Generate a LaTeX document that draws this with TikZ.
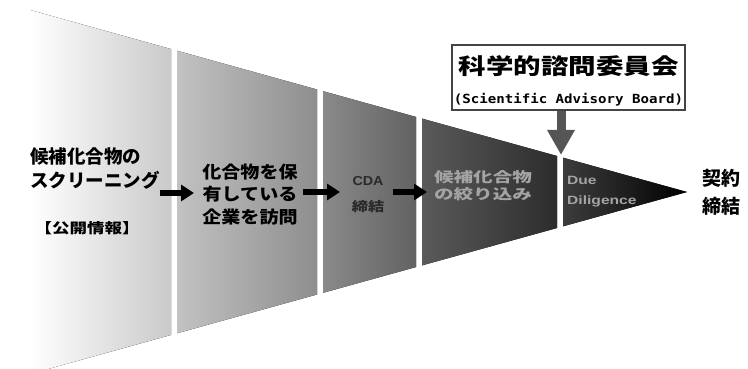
\documentclass[tikz,border=0pt]{standalone}
\usepackage{fontspec}
\usetikzlibrary{arrows.meta}
\setmainfont{Noto Sans CJK JP}
\newfontfamily\jpN{Noto Sans CJK JP}
\newfontfamily\jpA{Noto Sans CJK JP}[FakeStretch=1.12]
\newfontfamily\jpB{Noto Sans CJK JP}[FakeStretch=1.25]
\newfontfamily\jpC{Noto Sans CJK JP}[FakeStretch=1.4]
\newfontfamily\monof{DejaVu Sans Mono}[FakeStretch=1.12]
\newfontfamily\latn{Liberation Sans}[FakeStretch=1.3]
\newfontfamily\latnB{Liberation Sans}[FakeStretch=1.1]
\definecolor{coneA}{HTML}{CACACA}
\definecolor{ctwoL}{HTML}{C2C2C2}
\definecolor{ctwoR}{HTML}{8E8E8E}
\definecolor{cthreeL}{HTML}{8A8A8A}
\definecolor{cthreeR}{HTML}{626262}
\definecolor{cfourL}{HTML}{5A5A5A}
\definecolor{cfourR}{HTML}{2C2C2C}
\definecolor{cfiveL}{HTML}{3C3C3C}
\definecolor{boxline}{HTML}{444444}
\definecolor{arrowgrey}{HTML}{555555}
\definecolor{cdatext}{HTML}{2A2A2A}
\definecolor{lighttext}{HTML}{A4A4A4}
\begin{document}
\begin{tikzpicture}[x=1pt,y=-1pt,
  stagefill/.style 2 args={left color=#1, right color=#2, draw=none},
  lbl/.style={inner sep=0pt, align=center, text=black},
  flowarrow/.style={-{Triangle[length=13pt,width=16pt]}, line width=6pt, draw=black},
  sabarrow/.style={-{Triangle[length=25pt,width=26pt]}, line width=9pt, draw=arrowgrey},
]
\path[use as bounding box] (0,0) rectangle (748,369);
% funnel stages
\fill[stagefill={white}{coneA}] (30,10) -- (171,49.06) -- (171,334.94) -- (30,374) -- cycle;
\fill[stagefill={ctwoL}{ctwoR}] (177,50.72) -- (317,89.50) -- (317,294.50) -- (177,333.28) -- cycle;
\fill[stagefill={cthreeL}{cthreeR}] (323,91.17) -- (416,116.93) -- (416,267.07) -- (323,292.83) -- cycle;
\fill[stagefill={cfourL}{cfourR}] (422,118.59) -- (557,155.99) -- (557,228.01) -- (422,265.41) -- cycle;
\fill[stagefill={cfiveL}{black}] (563,157.65) -- (687,192) -- (563,226.35) -- cycle;

% texts
\node[lbl, anchor=west, align=left, font=\jpN\bfseries\fontsize{18.5}{24}\selectfont] (t1) at (30,169) {候補化合物の\\スクリーニング};
\node[lbl, font=\jpB\bfseries\fontsize{14}{16}\selectfont] (t1b) at (87,228) {【公開情報】};
\node[lbl, font=\jpA\bfseries\fontsize{17}{22.5}\selectfont] (t2) at (250,194.5) {化合物を保\\有している\\企業を訪問};
\node[lbl, text=cdatext, font=\bfseries\fontsize{13}{26}\selectfont] (t3) at (368,195) {{\latnB CDA}\\{\jpB 締結}};
\node[lbl, text=lighttext, font=\jpC\bfseries\fontsize{14}{17}\selectfont] (t4) at (483,185.5) {候補化合物\\の絞り込み};
\node[lbl, anchor=west, align=left, text=lighttext, font=\latn\bfseries\fontsize{12}{20}\selectfont] (t5) at (567,192) {Due\\Diligence};
\node[lbl, anchor=west, align=left, font=\jpN\bfseries\fontsize{19}{28}\selectfont] (t6) at (702,192) {契約\\締結};

% flow arrows
\coordinate (a1s) at (160,193);
\coordinate (a1e) at (194,193);
\coordinate (a2s) at (303,192);
\coordinate (a2e) at (340,192);
\coordinate (a3s) at (393,192);
\coordinate (a3e) at (427,192);
\draw[flowarrow] (a1s) -- (a1e);
\draw[flowarrow] (a2s) -- (a2e);
\draw[flowarrow] (a3s) -- (a3e);

% advisory board box
\node[draw=boxline, line width=1.5pt, fill=white, minimum width=233pt, minimum height=65pt, inner sep=0pt] (sab) at (568.5,77.5) {};
\node[lbl, font=\jpB\bfseries\fontsize{22}{24}\selectfont] (sabt) at (568.5,66) {科学的諮問委員会};
\node[lbl, font=\monof\bfseries\fontsize{12.6}{14}\selectfont] (sabs) at (568.5,100) {(Scientific Advisory Board)};
\coordinate (dn) at (561,155);
\draw[sabarrow] (sab.south -| dn) -- (dn);
\end{tikzpicture}
\end{document}
